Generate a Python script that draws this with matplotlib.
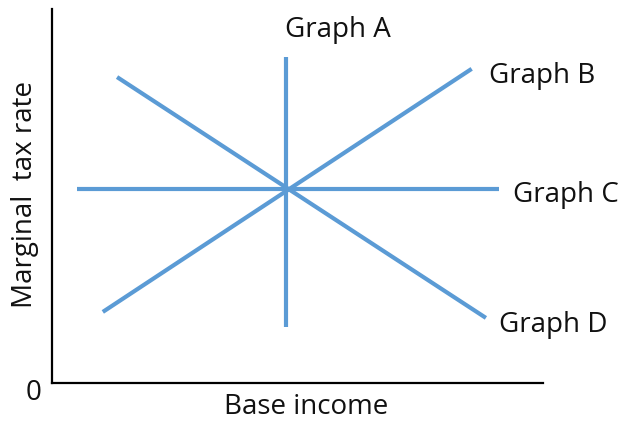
import matplotlib
matplotlib.use("Agg")
import matplotlib.pyplot as plt

plt.rcParams['font.family'] = ['Open Sans', 'DejaVu Sans']

# line segments (x0, x1), (y0, y1) in arbitrary units
names = ['Graph A', 'Graph B', 'Graph C', 'Graph D']
xs = [(4.76, 4.76), (1.04, 8.55), (0.51, 9.10), (1.33, 8.84)]
ys = [(1.50, 8.72), (1.90, 8.40), (5.19, 5.19), (8.18, 1.74)]
label_x = [4.74, 8.90, 9.39, 9.10]
label_y = [9.25, 8.02, 4.84, 1.36]

blue = '#5B9BD5'
txt = '#111111'

fig = plt.figure(figsize=(6.24, 4.21), dpi=100)
ax = fig.add_axes([0.0829, 0.0903, 0.7871, 0.8883])

for x, y in zip(xs, ys):
    ax.plot(x, y, color=blue, lw=3, solid_capstyle='butt')

for n, lx, ly in zip(names, label_x, label_y):
    ax.text(lx, ly, n, ha='left', va='baseline', fontsize=20, color=txt, clip_on=False)

ax.set_xlim(0, 10)
ax.set_ylim(0, 10)
for s in ['top', 'right']:
    ax.spines[s].set_visible(False)
for s in ['left', 'bottom']:
    ax.spines[s].set_linewidth(1.6)
ax.set_xticks([])
ax.set_yticks([])

ax.text(-0.38, -0.45, '0', ha='center', va='baseline', fontsize=20, color=txt, clip_on=False)
ax.text(5.18, -0.84, 'Base income', ha='center', va='baseline', fontsize=20, color=txt, clip_on=False)
ax.text(-0.54, 5.03, 'Marginal  tax rate', ha='center', va='center', rotation=90,
        fontsize=20, color=txt, clip_on=False)

fig.savefig('out.png', dpi=100)
